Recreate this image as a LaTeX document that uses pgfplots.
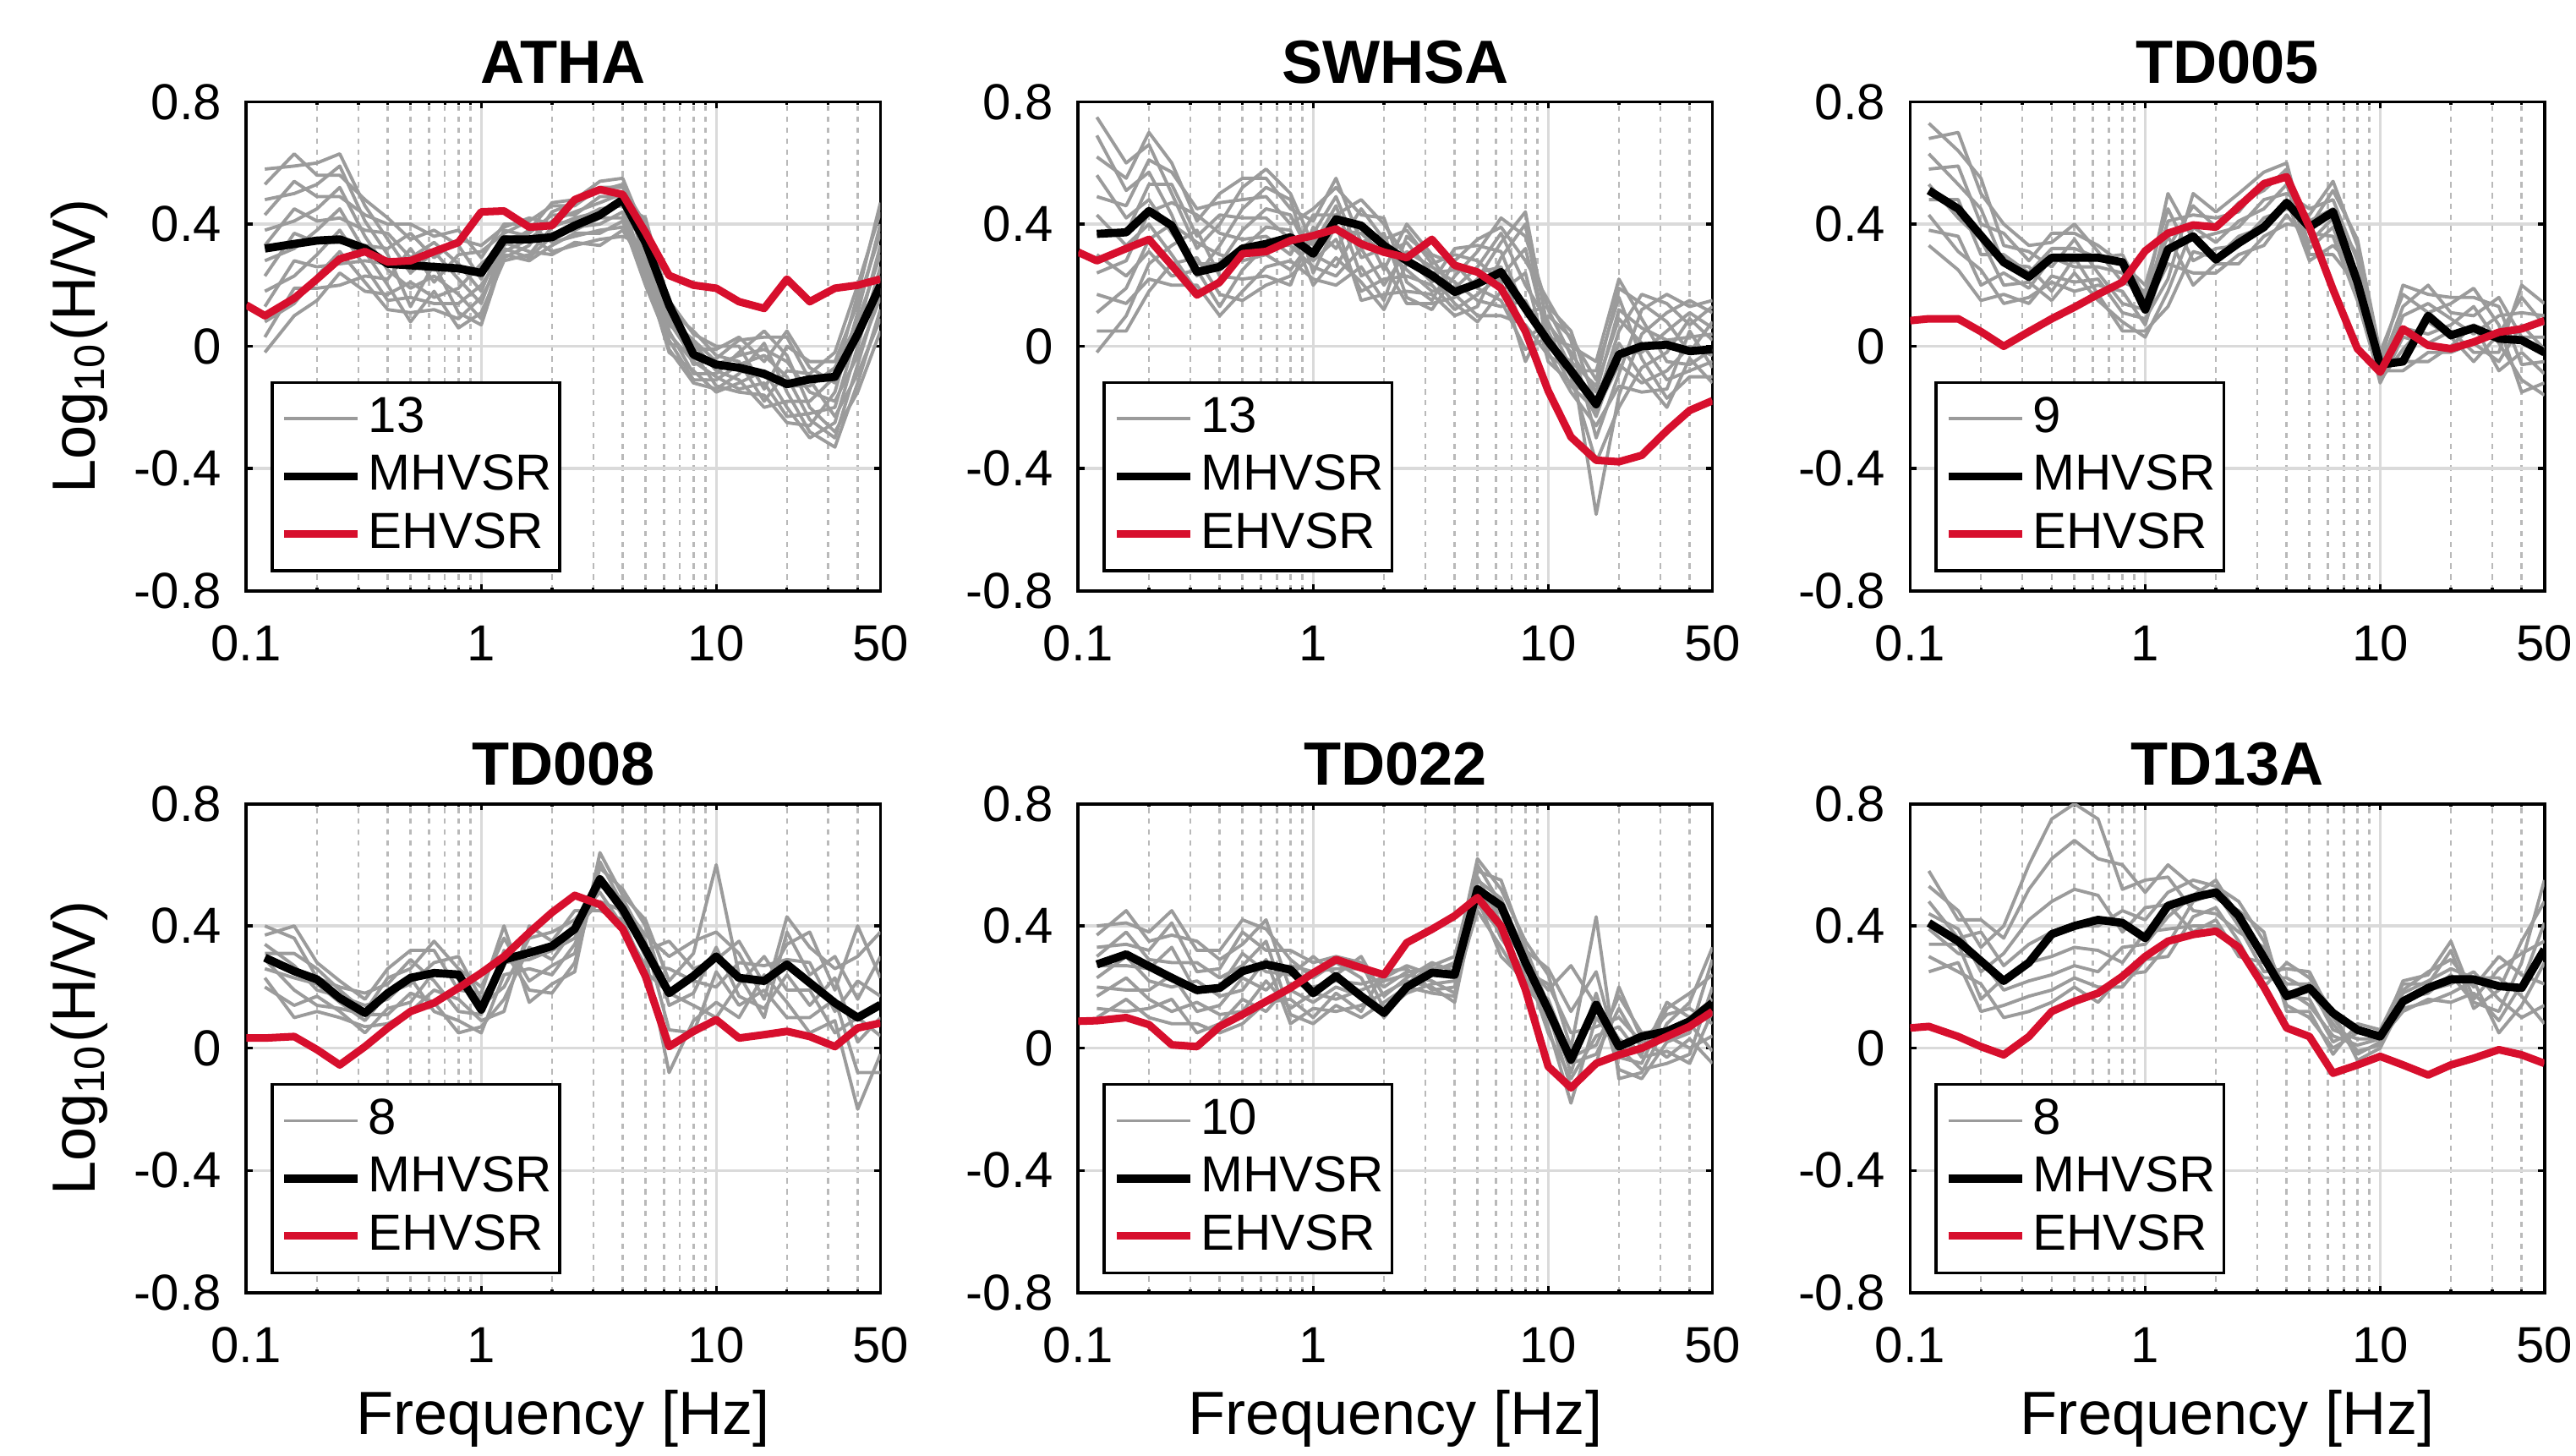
\documentclass[border=0pt]{standalone}
\usepackage{fontspec}
\setmainfont{Liberation Sans}
\usepackage{pgfplots}
\usepackage{pgfplotstable}
\pgfplotsset{compat=1.18}
\usepgfplotslibrary{groupplots}
\usetikzlibrary{calc}

\definecolor{hvgrey}{RGB}{155,155,155}
\definecolor{hvred}{RGB}{215,15,45}
\definecolor{gridmaj}{RGB}{218,218,218}
\definecolor{gridmin}{RGB}{185,185,185}

% ATHA: single-station curves (g*), their mean (m), and EHVSR (e)
\pgfplotstableread{
f g1 g2 g3 g4 g5 g6 g7 g8 g9 g10 g11 g12 g13 m
0.12 0.58 0.53 0.48 0.43 0.38 0.33 0.28 0.23 0.18 0.13 0.08 0.03 -0.02 0.32
0.16 0.59 0.63 0.50 0.54 0.41 0.45 0.32 0.37 0.23 0.28 0.14 0.19 0.10 0.335
0.2 0.60 0.56 0.53 0.49 0.45 0.41 0.38 0.34 0.30 0.26 0.23 0.19 0.15 0.346
0.25 0.63 0.56 0.59 0.49 0.52 0.42 0.45 0.34 0.38 0.27 0.31 0.20 0.24 0.35
0.32 0.46 0.48 0.41 0.43 0.36 0.38 0.31 0.33 0.26 0.28 0.21 0.23 0.18 0.32
0.4 0.35 0.42 0.30 0.40 0.25 0.37 0.20 0.32 0.15 0.27 0.12 0.22 0.17 0.27
0.5 0.24 0.35 0.13 0.40 0.19 0.29 0.08 0.37 0.16 0.27 0.11 0.32 0.21 0.265
0.63 0.31 0.38 0.27 0.36 0.23 0.34 0.18 0.29 0.14 0.25 0.12 0.21 0.16 0.26
0.8 0.22 0.33 0.11 0.38 0.17 0.27 0.06 0.35 0.14 0.25 0.09 0.30 0.19 0.255
1 0.14 0.22 0.07 0.29 0.09 0.18 0.11 0.33 0.20 0.24 0.16 0.31 0.27 0.24
1.25 0.34 0.38 0.30 0.40 0.32 0.36 0.28 0.39 0.31 0.35 0.29 0.37 0.33 0.35
1.6 0.31 0.36 0.28 0.40 0.29 0.34 0.30 0.42 0.35 0.37 0.33 0.41 0.38 0.35
2 0.30 0.31 0.33 0.34 0.36 0.37 0.39 0.40 0.41 0.43 0.44 0.46 0.47 0.357
2.5 0.34 0.33 0.37 0.36 0.39 0.38 0.42 0.41 0.44 0.43 0.47 0.46 0.48 0.395
3.2 0.33 0.35 0.37 0.38 0.40 0.42 0.44 0.45 0.47 0.49 0.51 0.52 0.54 0.43
4 0.38 0.36 0.41 0.39 0.44 0.42 0.47 0.46 0.50 0.49 0.53 0.52 0.55 0.48
5 0.26 0.33 0.20 0.38 0.22 0.29 0.24 0.42 0.31 0.35 0.27 0.40 0.37 0.34
6.3 0.07 0.12 0.01 0.15 0.04 0.09 -0.02 0.14 0.02 0.08 -0.01 0.11 0.05 0.135
8 0.01 0.05 -0.02 0.04 -0.05 0.02 -0.08 -0.01 -0.11 -0.04 -0.12 -0.06 -0.09 -0.027
10 -0.08 -0.03 -0.13 0.00 -0.10 -0.05 -0.15 -0.01 -0.11 -0.06 -0.14 -0.04 -0.09 -0.06
12.5 -0.11 -0.05 -0.15 0.00 -0.14 -0.08 -0.12 0.03 -0.06 -0.03 -0.09 0.02 -0.02 -0.07
16 -0.20 -0.18 -0.16 -0.14 -0.12 -0.10 -0.08 -0.05 -0.03 -0.01 0.01 0.03 0.05 -0.09
20 -0.18 -0.08 -0.25 0.00 -0.23 -0.13 -0.20 0.05 -0.10 -0.05 -0.15 0.03 -0.03 -0.124
25 -0.18 -0.09 -0.26 -0.05 -0.22 -0.13 -0.30 -0.07 -0.24 -0.15 -0.28 -0.11 -0.20 -0.108
32 -0.10 -0.02 -0.15 -0.05 -0.20 -0.07 -0.25 -0.12 -0.30 -0.18 -0.33 -0.23 -0.28 -0.10
40 0.17 0.20 0.11 0.14 0.05 0.08 0.00 0.03 -0.06 -0.03 -0.12 -0.09 -0.15 0.04
50 0.47 0.44 0.40 0.37 0.33 0.30 0.26 0.23 0.19 0.16 0.12 0.09 0.05 0.20
}\athaG
\pgfplotstableread{
f e
0.1 0.135
0.12 0.10
0.16 0.157
0.2 0.22
0.25 0.286
0.32 0.31
0.4 0.276
0.5 0.28
0.63 0.31
0.8 0.34
1 0.44
1.25 0.443
1.6 0.39
2 0.395
2.5 0.48
3.2 0.513
4 0.497
5 0.373
6.3 0.232
8 0.2
10 0.19
12.5 0.146
16 0.124
20 0.22
25 0.146
32 0.19
40 0.2
50 0.22
}\athaE

% SWHSA
\pgfplotstableread{
f g1 g2 g3 g4 g5 g6 g7 g8 g9 g10 g11 g12 g13 m
0.12 0.75 0.62 0.69 0.49 0.56 0.37 0.43 0.24 0.30 0.11 0.17 -0.02 0.05 0.368
0.16 0.60 0.55 0.51 0.46 0.42 0.37 0.33 0.28 0.23 0.19 0.14 0.10 0.05 0.373
0.2 0.66 0.70 0.57 0.61 0.48 0.53 0.40 0.44 0.31 0.35 0.22 0.27 0.18 0.443
0.25 0.50 0.60 0.43 0.57 0.37 0.53 0.30 0.47 0.23 0.40 0.20 0.33 0.27 0.395
0.32 0.32 0.41 0.23 0.45 0.27 0.36 0.18 0.43 0.25 0.34 0.20 0.38 0.29 0.243
0.4 0.40 0.50 0.33 0.47 0.27 0.43 0.20 0.37 0.13 0.30 0.10 0.23 0.17 0.26
0.5 0.52 0.55 0.45 0.48 0.38 0.42 0.32 0.35 0.25 0.28 0.18 0.22 0.15 0.32
0.63 0.58 0.55 0.52 0.49 0.45 0.42 0.39 0.36 0.33 0.30 0.26 0.23 0.20 0.335
0.8 0.50 0.45 0.48 0.40 0.43 0.35 0.38 0.30 0.33 0.25 0.28 0.20 0.23 0.357
1 0.33 0.41 0.24 0.45 0.28 0.37 0.20 0.43 0.26 0.35 0.22 0.39 0.30 0.303
1.25 0.46 0.55 0.40 0.52 0.35 0.49 0.29 0.43 0.23 0.38 0.20 0.32 0.26 0.416
1.6 0.23 0.34 0.15 0.43 0.18 0.29 0.21 0.48 0.32 0.37 0.26 0.45 0.40 0.395
2 0.27 0.37 0.17 0.42 0.22 0.32 0.12 0.40 0.20 0.30 0.15 0.35 0.25 0.33
2.5 0.14 0.16 0.18 0.21 0.23 0.25 0.27 0.29 0.31 0.34 0.36 0.38 0.40 0.28
3.2 0.14 0.12 0.17 0.15 0.20 0.18 0.23 0.21 0.26 0.24 0.29 0.27 0.30 0.232
4 0.16 0.23 0.10 0.28 0.12 0.19 0.14 0.32 0.21 0.25 0.17 0.30 0.27 0.178
5 0.22 0.31 0.13 0.35 0.17 0.26 0.08 0.33 0.15 0.24 0.10 0.28 0.19 0.205
6.3 0.34 0.42 0.29 0.39 0.23 0.37 0.18 0.31 0.13 0.26 0.10 0.21 0.15 0.243
8 0.44 0.36 0.40 0.28 0.32 0.20 0.24 0.11 0.15 0.03 0.07 -0.05 -0.01 0.124
10 0.05 0.12 -0.02 0.15 0.02 0.08 -0.05 0.13 0.00 0.07 -0.03 0.10 0.03 0.016
12.5 -0.10 -0.03 -0.15 0.02 -0.13 -0.07 -0.12 0.05 -0.05 -0.02 -0.08 0.03 0.00 -0.08
16 -0.38 -0.55 -0.26 -0.30 -0.21 -0.23 -0.17 -0.19 -0.13 -0.15 -0.08 -0.11 -0.05 -0.19
20 -0.20 -0.16 -0.13 -0.09 -0.06 -0.02 0.01 0.05 0.09 0.12 0.16 0.19 0.22 -0.027
25 -0.07 0.04 -0.15 0.12 -0.12 -0.02 -0.10 0.17 0.01 0.06 -0.04 0.14 0.09 0.0
32 -0.02 0.11 -0.14 0.17 -0.08 0.05 -0.20 0.14 -0.11 0.02 -0.17 0.08 -0.05 0.005
40 0.09 0.15 0.05 0.13 0.00 0.11 -0.04 0.07 -0.08 0.03 -0.10 -0.02 -0.06 -0.016
50 0.02 0.11 -0.07 0.15 -0.03 0.06 -0.12 0.13 -0.05 0.04 -0.10 0.08 -0.01 -0.01
}\swhsaG
\pgfplotstableread{
f e
0.1 0.308
0.12 0.28
0.16 0.32
0.2 0.35
0.25 0.265
0.32 0.168
0.4 0.21
0.5 0.303
0.63 0.31
0.8 0.346
1 0.362
1.25 0.384
1.6 0.335
2 0.308
2.5 0.29
3.2 0.35
4 0.265
5 0.243
6.3 0.19
8 0.049
10 -0.146
12.5 -0.297
16 -0.373
20 -0.378
25 -0.357
32 -0.276
40 -0.21
50 -0.178
}\swhsaE

% TD005
\pgfplotstableread{
f g1 g2 g3 g4 g5 g6 g7 g8 g9 m
0.12 0.73 0.68 0.63 0.58 0.53 0.48 0.43 0.38 0.33 0.51
0.16 0.64 0.70 0.53 0.59 0.42 0.48 0.31 0.36 0.25 0.45
0.2 0.55 0.50 0.45 0.40 0.35 0.30 0.25 0.20 0.15 0.362
0.25 0.33 0.40 0.27 0.37 0.20 0.30 0.14 0.24 0.17 0.275
0.32 0.31 0.33 0.26 0.28 0.21 0.24 0.16 0.19 0.14 0.227
0.4 0.26 0.34 0.18 0.37 0.15 0.32 0.21 0.29 0.23 0.29
0.5 0.35 0.40 0.29 0.37 0.24 0.32 0.18 0.26 0.21 0.29
0.63 0.24 0.31 0.17 0.33 0.15 0.29 0.20 0.26 0.22 0.29
0.8 0.14 0.21 0.05 0.27 0.08 0.30 0.18 0.24 0.11 0.275
1 0.12 0.18 0.05 0.20 0.03 0.16 0.07 0.14 0.09 0.12
1.25 0.27 0.36 0.13 0.45 0.18 0.50 0.32 0.41 0.22 0.317
1.6 0.24 0.20 0.31 0.28 0.39 0.35 0.46 0.43 0.50 0.36
2 0.24 0.27 0.29 0.32 0.34 0.37 0.39 0.42 0.44 0.284
2.5 0.30 0.27 0.36 0.33 0.41 0.39 0.47 0.44 0.50 0.338
3.2 0.33 0.36 0.39 0.42 0.45 0.48 0.51 0.54 0.57 0.39
4 0.43 0.40 0.48 0.45 0.53 0.50 0.58 0.55 0.60 0.47
5 0.34 0.39 0.28 0.43 0.30 0.45 0.37 0.41 0.32 0.39
6.3 0.42 0.51 0.33 0.54 0.30 0.48 0.36 0.45 0.39 0.44
8 0.30 0.35 0.25 0.33 0.20 0.28 0.15 0.23 0.18 0.21
10 -0.03 -0.02 -0.06 -0.05 -0.08 -0.07 -0.11 -0.10 -0.12 -0.06
12.5 0.06 0.17 -0.05 0.20 -0.08 0.13 -0.01 0.10 0.03 -0.05
16 0.04 0.11 -0.05 0.17 -0.02 0.20 0.08 0.14 0.01 0.10
20 0.07 0.14 0.00 0.16 -0.02 0.11 0.03 0.09 0.05 0.036
25 0.13 0.19 0.07 0.16 0.01 0.10 -0.05 0.04 -0.02 0.06
32 0.01 0.07 -0.08 0.13 -0.05 0.16 0.04 0.10 -0.02 0.025
40 -0.11 -0.15 -0.02 -0.06 0.07 0.03 0.16 0.11 0.20 0.02
50 -0.16 -0.12 -0.09 -0.05 -0.01 0.03 0.07 0.10 0.14 -0.02
}\tdfiveG
\pgfplotstableread{
f e
0.1 0.084
0.12 0.09
0.16 0.09
0.2 0.048
0.25 0.0
0.32 0.048
0.4 0.09
0.5 0.128
0.63 0.17
0.8 0.21
1 0.312
1.25 0.37
1.6 0.397
2 0.39
2.5 0.457
3.2 0.532
4 0.555
5 0.39
6.3 0.186
8 -0.008
10 -0.085
12.5 0.057
16 0.003
20 -0.008
25 0.014
32 0.046
40 0.057
50 0.084
}\tdfiveE

% TD008
\pgfplotstableread{
f g1 g2 g3 g4 g5 g6 g7 g8 m
0.12 0.40 0.37 0.34 0.31 0.29 0.26 0.23 0.20 0.296
0.16 0.36 0.40 0.27 0.31 0.19 0.23 0.10 0.14 0.252
0.2 0.23 0.28 0.19 0.26 0.14 0.21 0.12 0.17 0.225
0.25 0.20 0.22 0.17 0.19 0.13 0.15 0.10 0.12 0.164
0.32 0.18 0.16 0.14 0.12 0.11 0.09 0.07 0.05 0.115
0.4 0.21 0.26 0.16 0.23 0.11 0.18 0.08 0.13 0.18
0.5 0.29 0.32 0.23 0.26 0.18 0.21 0.12 0.15 0.23
0.63 0.22 0.32 0.12 0.35 0.15 0.28 0.19 0.25 0.246
0.8 0.12 0.19 0.09 0.26 0.05 0.30 0.16 0.23 0.241
1 0.11 0.18 0.05 0.20 0.07 0.16 0.09 0.14 0.126
1.25 0.32 0.40 0.24 0.36 0.16 0.28 0.12 0.20 0.29
1.6 0.19 0.15 0.26 0.22 0.33 0.29 0.40 0.36 0.312
2 0.18 0.21 0.24 0.27 0.29 0.32 0.35 0.38 0.334
2.5 0.28 0.25 0.34 0.31 0.39 0.36 0.45 0.42 0.39
3.2 0.59 0.64 0.53 0.61 0.48 0.56 0.45 0.51 0.553
4 0.52 0.50 0.49 0.47 0.45 0.43 0.42 0.40 0.455
5 0.40 0.42 0.35 0.37 0.30 0.32 0.25 0.27 0.323
6.3 0.14 0.22 0.06 0.30 -0.08 0.35 0.18 0.26 0.18
8 0.18 0.31 0.05 0.35 0.09 0.26 0.14 0.22 0.236
10 0.33 0.60 0.25 0.38 0.15 0.29 0.10 0.20 0.30
12.5 0.17 0.24 0.14 0.31 0.10 0.35 0.21 0.28 0.23
16 0.13 0.10 0.19 0.16 0.24 0.21 0.30 0.27 0.22
20 0.24 0.38 0.10 0.43 0.15 0.34 0.19 0.29 0.274
25 0.14 0.24 0.10 0.33 0.05 0.38 0.19 0.28 0.214
32 0.23 0.30 0.16 0.26 0.09 0.19 0.05 0.12 0.148
40 0.02 0.16 -0.08 0.30 -0.20 0.40 0.10 0.22 0.10
50 0.10 0.30 -0.08 0.38 -0.02 0.23 0.04 0.17 0.142
}\tdeightG
\pgfplotstableread{
f e
0.1 0.033
0.12 0.033
0.16 0.038
0.2 -0.005
0.25 -0.055
0.32 0.005
0.4 0.066
0.5 0.12
0.63 0.148
0.8 0.197
1 0.246
1.25 0.30
1.6 0.378
2 0.444
2.5 0.5
3.2 0.47
4 0.39
5 0.235
6.3 0.005
8 0.055
10 0.093
12.5 0.033
16 0.044
20 0.055
25 0.038
32 0.005
40 0.066
50 0.082
}\tdeightE

% TD022
\pgfplotstableread{
f g1 g2 g3 g4 g5 g6 g7 g8 g9 g10 m
0.12 0.37 0.40 0.30 0.33 0.23 0.27 0.17 0.20 0.10 0.13 0.274
0.16 0.45 0.41 0.38 0.34 0.30 0.27 0.23 0.19 0.16 0.12 0.307
0.2 0.35 0.38 0.29 0.32 0.22 0.26 0.16 0.19 0.10 0.13 0.268
0.25 0.37 0.45 0.28 0.41 0.20 0.33 0.12 0.24 0.08 0.16 0.23
0.32 0.35 0.32 0.28 0.25 0.22 0.18 0.15 0.12 0.08 0.05 0.19
0.4 0.29 0.32 0.23 0.26 0.17 0.20 0.11 0.14 0.05 0.08 0.197
0.5 0.34 0.42 0.27 0.38 0.19 0.31 0.12 0.23 0.08 0.16 0.252
0.63 0.42 0.39 0.35 0.32 0.29 0.25 0.22 0.19 0.15 0.12 0.274
0.8 0.19 0.29 0.11 0.32 0.08 0.24 0.13 0.27 0.16 0.21 0.257
1 0.15 0.23 0.08 0.28 0.13 0.30 0.18 0.25 0.10 0.20 0.18
1.25 0.20 0.28 0.14 0.30 0.12 0.24 0.16 0.26 0.18 0.22 0.236
1.6 0.17 0.23 0.10 0.28 0.14 0.30 0.19 0.26 0.12 0.21 0.17
2 0.12 0.10 0.15 0.13 0.18 0.17 0.22 0.20 0.25 0.23 0.115
2.5 0.18 0.19 0.20 0.21 0.22 0.23 0.24 0.25 0.26 0.27 0.2
3.2 0.21 0.25 0.18 0.27 0.20 0.28 0.22 0.26 0.19 0.24 0.247
4 0.22 0.28 0.17 0.30 0.15 0.25 0.18 0.27 0.20 0.23 0.24
5 0.58 0.62 0.55 0.60 0.51 0.56 0.47 0.53 0.45 0.49 0.52
6.3 0.55 0.52 0.49 0.47 0.44 0.41 0.38 0.36 0.33 0.30 0.466
8 0.33 0.35 0.30 0.32 0.27 0.28 0.23 0.25 0.20 0.22 0.28
10 0.14 0.24 0.07 0.26 0.05 0.19 0.10 0.21 0.12 0.16 0.126
12.5 -0.08 0.00 -0.18 0.12 -0.10 0.27 -0.05 0.05 -0.13 -0.03 -0.038
16 0.18 0.43 0.10 0.25 0.04 0.14 -0.02 0.07 -0.05 0.01 0.142
20 -0.07 -0.10 0.00 -0.03 0.07 0.03 0.13 0.10 0.20 0.17 0.005
25 -0.10 -0.08 -0.07 -0.05 -0.03 -0.02 0.00 0.02 0.03 0.05 0.038
32 0.02 0.08 -0.05 0.13 -0.01 0.15 0.04 0.11 -0.03 0.06 0.055
40 0.05 0.15 -0.02 0.18 -0.05 0.10 0.00 0.13 0.03 0.08 0.088
50 0.29 0.33 0.20 0.24 0.12 0.16 0.04 0.08 -0.05 -0.01 0.148
}\tdtwentytwoG
\pgfplotstableread{
f e
0.1 0.088
0.12 0.09
0.16 0.1
0.2 0.077
0.25 0.011
0.32 0.005
0.4 0.071
0.5 0.11
0.63 0.153
0.8 0.197
1 0.246
1.25 0.29
1.6 0.263
2 0.24
2.5 0.345
3.2 0.389
4 0.433
5 0.493
6.3 0.4
8 0.192
10 -0.06
12.5 -0.13
16 -0.05
20 -0.022
25 0.0
32 0.038
40 0.071
50 0.12
}\tdtwentytwoE

% TD13A
\pgfplotstableread{
f g1 g2 g3 g4 g5 g6 g7 g8 m
0.12 0.53 0.58 0.44 0.48 0.34 0.39 0.25 0.30 0.41
0.16 0.45 0.42 0.39 0.36 0.34 0.31 0.28 0.25 0.35
0.2 0.33 0.42 0.25 0.38 0.16 0.29 0.12 0.21 0.285
0.25 0.40 0.36 0.31 0.27 0.23 0.19 0.14 0.10 0.22
0.32 0.60 0.52 0.42 0.34 0.28 0.22 0.17 0.12 0.28
0.4 0.75 0.62 0.48 0.38 0.30 0.24 0.19 0.15 0.373
0.5 0.80 0.68 0.52 0.40 0.33 0.27 0.23 0.20 0.40
0.63 0.75 0.62 0.50 0.40 0.32 0.25 0.20 0.15 0.42
0.8 0.52 0.60 0.38 0.45 0.28 0.33 0.20 0.24 0.41
1 0.55 0.51 0.46 0.42 0.38 0.34 0.29 0.25 0.36
1.25 0.56 0.60 0.47 0.51 0.39 0.43 0.30 0.34 0.466
1.6 0.45 0.53 0.38 0.55 0.40 0.50 0.43 0.48 0.493
2 0.44 0.49 0.42 0.53 0.40 0.55 0.46 0.51 0.51
2.5 0.38 0.45 0.30 0.48 0.33 0.43 0.35 0.40 0.433
3.2 0.33 0.38 0.28 0.35 0.23 0.30 0.20 0.25 0.296
4 0.14 0.12 0.19 0.17 0.23 0.21 0.28 0.26 0.17
5 0.10 0.12 0.14 0.16 0.19 0.21 0.23 0.25 0.197
6.3 0.00 -0.02 0.04 0.02 0.08 0.06 0.12 0.10 0.115
8 0.05 0.08 0.01 0.06 -0.02 0.03 -0.04 -0.01 0.06
10 0.05 0.06 0.03 0.04 0.02 0.03 0.00 0.01 0.038
12.5 0.16 0.21 0.12 0.22 0.13 0.19 0.15 0.18 0.153
16 0.18 0.21 0.16 0.24 0.15 0.25 0.19 0.22 0.197
20 0.24 0.32 0.15 0.35 0.18 0.29 0.21 0.26 0.225
25 0.15 0.13 0.18 0.16 0.22 0.20 0.25 0.23 0.225
32 0.12 0.19 0.09 0.26 0.05 0.30 0.16 0.23 0.203
40 0.28 0.35 0.21 0.31 0.14 0.24 0.10 0.17 0.197
50 0.55 0.48 0.41 0.35 0.28 0.21 0.14 0.08 0.323
}\tdthirteenG
\pgfplotstableread{
f e
0.1 0.066
0.12 0.071
0.16 0.038
0.2 0.005
0.25 -0.022
0.32 0.038
0.4 0.12
0.5 0.153
0.63 0.18
0.8 0.235
1 0.30
1.25 0.35
1.6 0.372
2 0.383
2.5 0.33
3.2 0.2
4 0.066
5 0.038
6.3 -0.082
8 -0.055
10 -0.027
12.5 -0.055
16 -0.088
20 -0.055
25 -0.033
32 -0.005
40 -0.022
50 -0.05
}\tdthirteenE

\pgfplotsset{
  greyline/.style={hvgrey, line width=0.6pt, mark=none, line join=round},
  mline/.style={black, line width=1.5pt, mark=none, line join=round},
  eline/.style={hvred, line width=1.4pt, mark=none, line join=round},
}

% one panel: grey table, EHVSR table, number of grey curves
\newcommand{\hvpanel}[3]{%
  \addplot[greyline] table[x=f,y=g1]{#1};
  \pgfplotsinvokeforeach{2,...,#3}{\addplot[greyline,forget plot] table[x=f,y=g##1]{#1};}
  \addplot[mline] table[x=f,y=m]{#1};
  \addplot[eline] table[x=f,y=e]{#2};
  \legend{#3,MHVSR,EHVSR}
}

\begin{document}
\begin{tikzpicture}
\begin{groupplot}[
  group style={group size=3 by 2, horizontal sep=36.3pt, vertical sep=39.1pt},
  scale only axis, width=116.4pt, height=89.7pt,
  xmode=log, xmin=0.1, xmax=50, ymin=-0.8, ymax=0.8,
  xtick={0.1,1,10,50}, xticklabels={0.1,1,10,50},
  minor xtick={0.2,0.3,0.4,0.5,0.6,0.7,0.8,0.9,2,3,4,5,6,7,8,9,20,30,40},
  ytick={-0.8,-0.4,0,0.4,0.8}, yticklabels={-0.8,-0.4,0,0.4,0.8},
  xmajorgrids, ymajorgrids, xminorgrids,
  major grid style={gridmaj, line width=0.5pt},
  minor grid style={gridmin, line width=0.4pt, dash pattern=on 1pt off 1pt},
  tick align=inside, major tick length=1.2pt, minor tick length=0.6pt,
  tick style={black, line width=0.5pt},
  axis line style={line width=0.6pt},
  ticklabel style={font=\fontsize{9.3}{10}\selectfont},
  xticklabel style={anchor=base, yshift=-12.9pt},
  yticklabel style={xshift=-1pt},
  every axis title/.style={at={(rel axis cs:0.5,1)}, anchor=base, yshift=3.4pt,
    font=\fontsize{11.2}{13}\selectfont\bfseries},
  every axis x label/.style={at={(rel axis cs:0.5,0)}, anchor=base, yshift=-26.1pt,
    font=\fontsize{11.2}{13}\selectfont},
  every axis y label/.style={at={(rel axis cs:0,0.5)}, xshift=-27.8pt, rotate=90,
    anchor=base, font=\fontsize{11.2}{13}\selectfont},
  legend style={at={(rel axis cs:0,0)}, anchor=south west, xshift=4.5pt, yshift=3.4pt,
    draw=black, line width=0.5pt, fill=white, inner xsep=1.5pt, inner ysep=2.7pt,
    row sep=2.6pt, column sep=1.2pt, font=\fontsize{9.3}{10}\selectfont,
    nodes={inner sep=0pt}},
  legend cell align=left,
  legend image code/.code={\draw[#1] (0pt,0pt) -- (13.5pt,0pt);},
]
\nextgroupplot[title={ATHA}, ylabel={Log\textsubscript{10}(H/V)}]
\hvpanel{\athaG}{\athaE}{13}
\nextgroupplot[title={SWHSA}]
\hvpanel{\swhsaG}{\swhsaE}{13}
\nextgroupplot[title={TD005}]
\hvpanel{\tdfiveG}{\tdfiveE}{9}
\nextgroupplot[title={TD008}, ylabel={Log\textsubscript{10}(H/V)}, xlabel={Frequency [Hz]}]
\hvpanel{\tdeightG}{\tdeightE}{8}
\nextgroupplot[title={TD022}, xlabel={Frequency [Hz]}]
\hvpanel{\tdtwentytwoG}{\tdtwentytwoE}{10}
\nextgroupplot[title={TD13A}, xlabel={Frequency [Hz]}]
\hvpanel{\tdthirteenG}{\tdthirteenE}{8}
\end{groupplot}
\pgfresetboundingbox
\path[use as bounding box] ($(group c1r1.north west)+(-45.2pt,18.7pt)$) rectangle ($(group c3r2.south east)+(5.8pt,-30.0pt)$);
\end{tikzpicture}
\end{document}
